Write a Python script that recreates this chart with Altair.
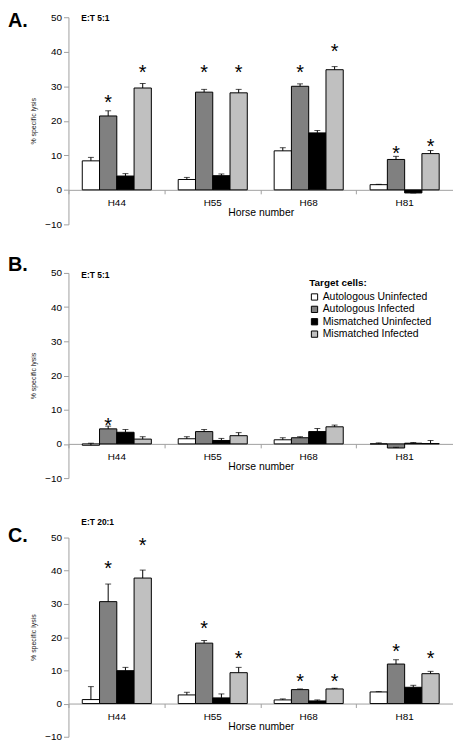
import altair as alt
import pandas as pd

horses = ["H44", "H55", "H68", "H81"]
series = ["Autologous Uninfected", "Autologous Infected",
          "Mismatched Uninfected", "Mismatched Infected"]
colors = ["#ffffff", "#808080", "#000000", "#c0c0c0"]

# Panel A: E:T 5:1
a_vals = [[8.4, 3.0, 11.3, 1.5],
          [21.4, 28.3, 30.0, 8.8],
          [4.0, 4.1, 16.5, -0.9],
          [29.5, 28.1, 34.8, 10.5]]
a_errs = [[1.0, 0.6, 0.9, 0.1],
          [1.5, 0.8, 0.7, 0.9],
          [0.7, 0.5, 0.7, 0.0],
          [1.3, 1.0, 0.9, 0.9]]
a_star_horse = ["H44", "H44", "H55", "H55", "H68", "H68", "H81", "H81"]
a_star_series = [1, 3, 1, 3, 1, 3, 1, 3]
a_star_y = [26.9, 35.5, 35.5, 35.5, 35.5, 41.7, 12.1, 14.0]

# Panel B: E:T 5:1
b_vals = [[-0.4, 1.5, 1.2, 0.0],
          [4.4, 3.6, 1.8, -1.2],
          [3.4, 1.0, 3.6, 0.2],
          [1.4, 2.4, 5.0, 0.1]]
b_errs = [[0.6, 0.6, 0.6, 0.3],
          [0.8, 0.6, 0.3, 0.2],
          [0.8, 0.6, 0.9, 0.2],
          [0.7, 0.9, 0.5, 0.9]]
b_star_horse = ["H44"]
b_star_series = [1]
b_star_y = [6.9]

# Panel C: E:T 20:1
c_vals = [[1.2, 2.6, 1.1, 3.5],
          [30.7, 18.2, 4.2, 11.9],
          [9.9, 1.7, 0.8, 4.9],
          [37.8, 9.3, 4.4, 9.0]]
c_errs = [[3.9, 0.8, 0.3, 0.1],
          [5.3, 0.8, 0.2, 1.3],
          [1.0, 1.2, 0.3, 0.6],
          [2.4, 1.6, 0.2, 0.7]]
c_star_horse = ["H44", "H44", "H55", "H55", "H68", "H68", "H81", "H81"]
c_star_series = [1, 3, 1, 3, 1, 3, 1, 3]
c_star_y = [42.2, 49.1, 24.1, 15.3, 8.2, 8.2, 17.3, 15.3]

y_ticks = [-10, 0, 10, 20, 30, 40, 50]
FONT = "Liberation Sans"
W = 388


def y_axis():
    return alt.Axis(title="% specific lysis", values=y_ticks, grid=False,
                    labelOverlap=False,
                    labelFont=FONT, labelFontSize=10, labelColor="#000",
                    labelPadding=2, tickSize=5, tickColor="#a0a0a0",
                    domainColor="#a0a0a0",
                    titleFont=FONT, titleFontSize=7, titleFontWeight="normal",
                    titleColor="#222", titlePadding=8)


def panel(vals, errs, s_h, s_s, s_y, letter, et, height, letter_y, et_y, show_legend):
    rows = []
    for s, v, e in zip(series, vals, errs):
        for h, vv, ee in zip(horses, v, e):
            rows.append({"horse": h, "series": s, "value": vv, "top": vv + ee})
    df = pd.DataFrame(rows)
    sdf = pd.DataFrame({"horse": s_h, "series": [series[i] for i in s_s], "y": s_y})

    off = -height / 6.0
    xscale = alt.Scale(domain=horses, paddingInner=0.28, paddingOuter=0.144)
    yscale = alt.Scale(domain=[-10, 50], nice=False)
    xoff = alt.XOffset("series:N", sort=series,
                       scale=alt.Scale(domain=series, paddingInner=0, paddingOuter=0))

    if show_legend:
        leg = alt.Legend(title="Target cells:", orient="none", legendX=243, legendY=5,
                         titleFont=FONT, titleFontSize=10, titleFontWeight="bold",
                         titleColor="#000", titlePadding=4,
                         labelFont=FONT, labelFontSize=10.5, labelColor="#000",
                         labelOffset=3, rowPadding=1.5,
                         symbolType="square", symbolSize=40,
                         symbolStrokeColor="#000", symbolStrokeWidth=1)
    else:
        leg = None

    fill = alt.Fill("series:N", scale=alt.Scale(domain=series, range=colors), legend=leg)

    bars = alt.Chart(df).mark_bar(stroke="#000", strokeWidth=1).encode(
        x=alt.X("horse:N", scale=xscale, sort=horses,
                axis=alt.Axis(title="Horse number", orient="bottom", offset=off,
                              ticks=False, labelAngle=0, labelPadding=8,
                              labelFont=FONT, labelFontSize=10, labelColor="#000",
                              titleFont=FONT, titleFontSize=10.5, titleFontWeight="normal",
                              titleColor="#000", titlePadding=0,
                              domainColor="#a0a0a0")),
        xOffset=xoff,
        y=alt.Y("value:Q", scale=yscale, axis=y_axis()),
        fill=fill,
    )
    rules = alt.Chart(df).mark_rule(color="#000", strokeWidth=1).encode(
        x=alt.X("horse:N", scale=xscale, sort=horses, axis=None),
        xOffset=xoff,
        y=alt.Y("value:Q", scale=yscale, axis=y_axis()),
        y2="top:Q",
    )
    caps = alt.Chart(df).mark_tick(color="#000", size=6, thickness=1).encode(
        x=alt.X("horse:N", scale=xscale, sort=horses,
                axis=alt.Axis(orient="bottom", offset=off, labels=False, domain=False,
                              title="", ticks=True, tickSize=4, tickColor="#a0a0a0",
                              bandPosition=-0.194)),
        xOffset=xoff,
        y=alt.Y("top:Q", scale=yscale, axis=y_axis()),
    )
    stars = alt.Chart(sdf).mark_text(text="*", font=FONT, fontSize=20, baseline="middle",
                                     dy=6, color="#000").encode(
        x=alt.X("horse:N", scale=xscale, sort=horses, axis=None),
        xOffset=alt.XOffset("series:N", sort=series,
                            scale=alt.Scale(domain=series, paddingInner=0, paddingOuter=0)),
        y=alt.Y("y:Q", scale=yscale, axis=y_axis()),
    )
    ldf = pd.DataFrame({"t": [letter]})
    letter_t = alt.Chart(ldf).mark_text(font=FONT, fontSize=20, fontWeight="bold",
                                        align="left", baseline="top", color="#000").encode(
        x=alt.value(-61), y=alt.value(letter_y), text="t:N")
    edf = pd.DataFrame({"t": [et]})
    et_t = alt.Chart(edf).mark_text(font=FONT, fontSize=8.5, fontWeight="bold",
                                    align="left", baseline="middle", color="#000").encode(
        x=alt.value(13), y=alt.value(et_y), text="t:N")

    return alt.layer(bars, rules, caps, stars, letter_t, et_t).resolve_axis(
        x="independent").properties(width=W, height=height)


pa = panel(a_vals, a_errs, a_star_horse, a_star_series, a_star_y,
           "A.", "E:T 5:1", 209, -6, 1, False)
pb = panel(b_vals, b_errs, b_star_horse, b_star_series, b_star_y,
           "B.", "E:T 5:1", 207, -18, 2.5, True)
pc = panel(c_vals, c_errs, c_star_horse, c_star_series, c_star_y,
           "C.", "E:T 20:1", 201, -12, -16, False)

inner = alt.vconcat(pb, pc, spacing=35).resolve_scale(fill="independent").resolve_legend(fill="independent")
chart = alt.vconcat(pa, inner, spacing=26).resolve_scale(fill="independent").resolve_legend(fill="independent")
chart = chart.properties(padding=0, background="#ffffff").configure_view(strokeOpacity=0)

chart.save("out.html", embed_options={"renderer": "svg", "actions": False})
